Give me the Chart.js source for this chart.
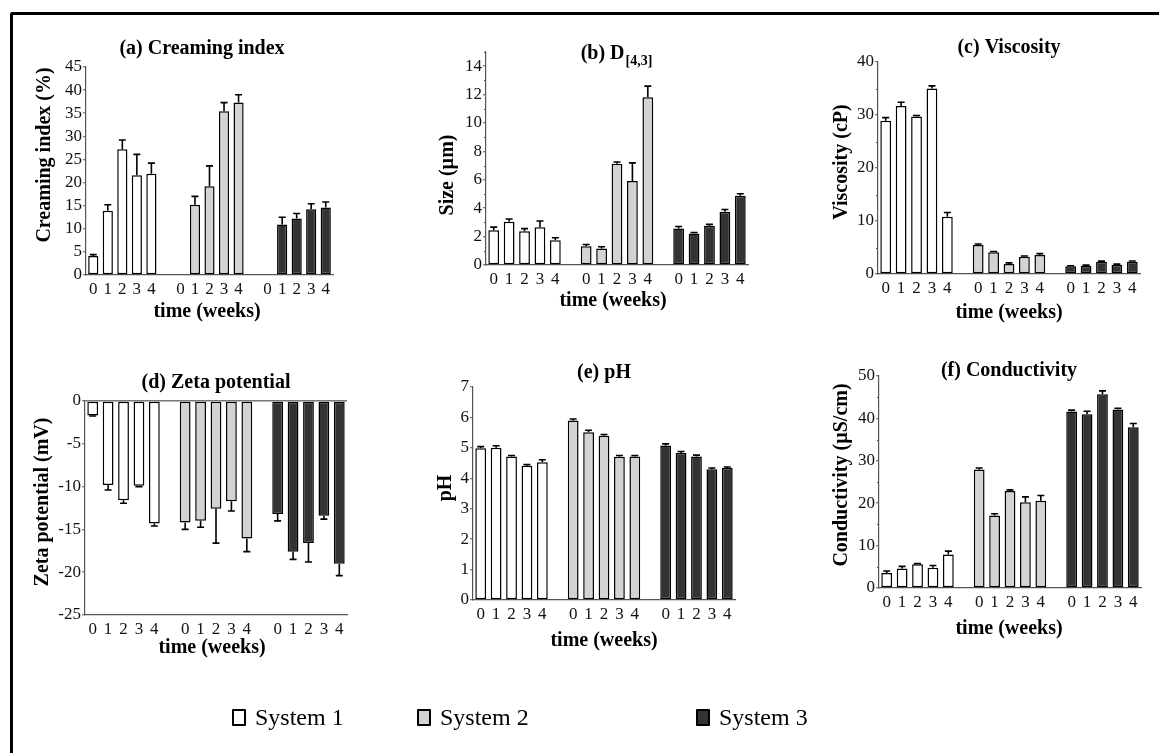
<!DOCTYPE html>
<html><head><meta charset="utf-8">
<script src="https://cdn.jsdelivr.net/npm/chart.js@4.4.0/dist/chart.umd.min.js"></script>
<style>
html,body{margin:0;padding:0;background:#fff;}
#wrap{position:relative;width:1159px;height:753px;overflow:hidden;background:#fff;}
#frame{position:absolute;left:10px;top:12px;width:1170px;height:760px;border-top:3px solid #000;border-left:3px solid #000;border-top-left-radius:3px;box-sizing:border-box;}
canvas.panel{position:absolute;left:0;top:0;}
.leg{position:absolute;top:703px;height:28px;font-family:"Liberation Serif",serif;font-size:24px;line-height:28px;color:#000;white-space:nowrap;}
.sw{display:inline-block;width:10px;height:13px;border:2.5px solid #000;border-radius:1px;vertical-align:-1px;margin-right:9px;}
</style></head>
<body><div id="wrap"><div id="frame"></div></div>
<script>
// ---------- shared labels ----------
const weekLabels = ['0','1','2','3','4'];
const systemNames = ['System 1','System 2','System 3'];
const systemColors = ['#ffffff','#d3d3d3','#333333'];

// ---------- (a) Creaming index (%) ----------
const creamS1 = [4.1, 13.9, 27.2, 21.6, 21.9];
const creamS1Err = [0.3, 1.3, 2.0, 4.5, 2.3];
const creamS2 = [null, 15.2, 19.2, 35.4, 37.3];
const creamS2Err = [null, 1.8, 4.4, 1.9, 1.7];
const creamS3 = [null, 10.9, 12.2, 14.2, 14.6];
const creamS3Err = [null, 1.6, 1.1, 1.2, 1.2];
const creamTicks = [0,5,10,15,20,25,30,35,40,45];

// ---------- (b) D[4,3] size (µm) ----------
const sizeS1 = [2.45, 3.04, 2.38, 2.65, 1.75];
const sizeS1Err = [0.22, 0.2, 0.18, 0.45, 0.17];
const sizeS2 = [1.32, 1.16, 7.13, 5.92, 11.82];
const sizeS2Err = [0.12, 0.12, 0.12, 1.27, 0.78];
const sizeS3 = [2.57, 2.21, 2.76, 3.75, 4.88];
const sizeS3Err = [0.14, 0.08, 0.1, 0.16, 0.14];
const sizeTicks = [0,2,4,6,8,10,12,14];

// ---------- (c) Viscosity (cP) ----------
const viscS1 = [28.9, 31.7, 29.7, 35.0, 10.8];
const viscS1Err = [0.6, 0.7, 0.2, 0.5, 0.8];
const viscS2 = [5.45, 4.1, 1.9, 3.25, 3.6];
const viscS2Err = [0.2, 0.15, 0.2, 0.15, 0.25];
const viscS3 = [1.45, 1.55, 2.3, 1.75, 2.3];
const viscS3Err = [0.12, 0.12, 0.12, 0.12, 0.15];
const viscTicks = [0,10,20,30,40];

// ---------- (d) Zeta potential (mV) ----------
const zetaS1 = [-1.7, -9.8, -11.6, -9.9, -14.3];
const zetaS1Err = [0.05, 0.6, 0.35, 0.1, 0.3];
const zetaS2 = [-14.2, -14.0, -12.6, -11.7, -16.05];
const zetaS2Err = [0.8, 0.75, 4.0, 1.15, 1.55];
const zetaS3 = [-13.2, -17.6, -16.6, -13.4, -19.0];
const zetaS3Err = [0.8, 0.9, 2.2, 0.4, 1.4];
const zetaTicks = [-25,-20,-15,-10,-5,0];

// ---------- (e) pH ----------
const phS1 = [4.99, 5.0, 4.72, 4.41, 4.53];
const phS1Err = [0.05, 0.07, 0.03, 0.04, 0.08];
const phS2 = [5.9, 5.51, 5.4, 4.71, 4.72];
const phS2Err = [0.05, 0.07, 0.04, 0.04, 0.03];
const phS3 = [5.08, 4.83, 4.72, 4.3, 4.34];
const phS3Err = [0.05, 0.05, 0.04, 0.04, 0.03];
const phTicks = [0,1,2,3,4,5,6,7];

// ---------- (f) Conductivity (µS/cm) ----------
const condS1 = [3.55, 4.6, 5.6, 4.75, 7.9];
const condS1Err = [0.45, 0.5, 0.15, 0.55, 0.8];
const condS2 = [27.95, 17.1, 22.9, 20.2, 20.55];
const condS2Err = [0.35, 0.4, 0.25, 1.3, 1.25];
const condS3 = [41.65, 41.0, 45.7, 42.1, 37.9];
const condS3Err = [0.3, 0.7, 0.8, 0.3, 0.9];
const condTicks = [0,10,20,30,40,50];

// ---------- helpers ----------
const xLabels = [...weekLabels, '', ...weekLabels, '', ...weekLabels];
function spread(values, group) {
  const arr = new Array(xLabels.length).fill(null);
  values.forEach((v, i) => { arr[group * 6 + i] = v; });
  return arr;
}
const SERIF = '"Liberation Serif", "Times New Roman", serif';

const panels = [
  { box:{L:86,T:67,R:333,B:275}, min:0, max:45, ticks:creamTicks, minor:null,
    series:[creamS1,creamS2,creamS3], errs:[creamS1Err,creamS2Err,creamS3Err],
    title:{text:'(a) Creaming index', x:202, y:49},
    ytitle:{text:'Creaming index (%)', x:45, y:155}, xtitle:{x:207, y:312} },
  { box:{L:486,T:52,R:748,B:265}, min:0, max:15, ticks:sizeTicks, minor:1,
    series:[sizeS1,sizeS2,sizeS3], errs:[sizeS1Err,sizeS2Err,sizeS3Err],
    title:{text:'(b) D', sub:'[4,3]', x:616, y:54},
    ytitle:{text:'Size (\u00b5m)', x:448, y:175}, xtitle:{x:613, y:301} },
  { box:{L:878,T:62,R:1140,B:274}, min:0, max:40, ticks:viscTicks, minor:5,
    series:[viscS1,viscS2,viscS3], errs:[viscS1Err,viscS2Err,viscS3Err],
    title:{text:'(c) Viscosity', x:1009, y:48},
    ytitle:{text:'Viscosity (cP)', x:842, y:162}, xtitle:{x:1009, y:313} },
  { box:{L:85,T:401,R:347,B:615}, min:-25, max:0, ticks:zetaTicks, minor:null, zeroLine:true,
    series:[zetaS1,zetaS2,zetaS3], errs:[zetaS1Err,zetaS2Err,zetaS3Err],
    title:{text:'(d) Zeta potential', x:216, y:383},
    ytitle:{text:'Zeta potential (mV)', x:43, y:502}, xtitle:{x:212, y:648} },
  { box:{L:473,T:387,R:735,B:600}, min:0, max:7, ticks:phTicks, minor:null,
    series:[phS1,phS2,phS3], errs:[phS1Err,phS2Err,phS3Err],
    title:{text:'(e) pH', x:604, y:373},
    ytitle:{text:'pH', x:446, y:488}, xtitle:{x:604, y:641} },
  { box:{L:879,T:376,R:1141,B:588}, min:0, max:50, ticks:condTicks, minor:5,
    series:[condS1,condS2,condS3], errs:[condS1Err,condS2Err,condS3Err],
    title:{text:'(f) Conductivity', x:1009, y:371},
    ytitle:{text:'Conductivity (\u00b5S/cm)', x:842, y:475}, xtitle:{x:1009, y:629} }
];

// ---------- plugins ----------
const errorBarPlugin = {
  id: 'errorBars',
  afterDatasetsDraw(chart) {
    const ctx = chart.ctx, ys = chart.scales.y;
    chart.data.datasets.forEach((ds, di) => {
      const meta = chart.getDatasetMeta(di);
      meta.data.forEach((bar, i) => {
        const v = ds.data[i], e = ds.errors ? ds.errors[i] : null;
        if (v == null || e == null) return;
        const end = v >= 0 ? v + e : v - e;
        const y0 = ys.getPixelForValue(v), y1 = ys.getPixelForValue(end);
        ctx.save();
        ctx.strokeStyle = '#000'; ctx.lineWidth = 1.6;
        ctx.beginPath();
        ctx.moveTo(bar.x, y0); ctx.lineTo(bar.x, y1);
        ctx.moveTo(bar.x - 3.5, y1); ctx.lineTo(bar.x + 3.5, y1);
        ctx.stroke();
        ctx.restore();
      });
    });
  }
};

const minorTickPlugin = {
  id: 'minorTicks',
  afterDraw(chart, args, opts) {
    if (!opts.step) return;
    const ys = chart.scales.y, ctx = chart.ctx, x = chart.chartArea.left;
    ctx.save(); ctx.strokeStyle = '#555'; ctx.lineWidth = 1;
    for (let v = ys.min; v <= ys.max + 1e-9; v += opts.step) {
      if (opts.major.includes(Math.round(v * 1000) / 1000)) continue;
      const y = Math.round(ys.getPixelForValue(v)) + 0.5;
      ctx.beginPath(); ctx.moveTo(x - 2, y); ctx.lineTo(x, y); ctx.stroke();
    }
    ctx.restore();
  }
};

const panelTextPlugin = {
  id: 'panelText',
  afterDraw(chart, args, opts) {
    const ctx = chart.ctx;
    ctx.save();
    ctx.fillStyle = '#000';
    ctx.textBaseline = 'middle';
    const t = opts.title;
    ctx.font = 'bold 20px ' + SERIF;
    if (t.sub) {
      const w1 = ctx.measureText(t.text).width;
      ctx.font = 'bold 14px ' + SERIF;
      const w2 = ctx.measureText(t.sub).width;
      const x0 = t.x - (w1 + w2) / 2;
      ctx.textAlign = 'left';
      ctx.font = 'bold 20px ' + SERIF;
      ctx.fillText(t.text, x0, t.y);
      ctx.font = 'bold 14px ' + SERIF;
      ctx.fillText(t.sub, x0 + w1 + 1, t.y + 7);
    } else {
      ctx.textAlign = 'center';
      ctx.fillText(t.text, t.x, t.y);
    }
    ctx.font = 'bold 20px ' + SERIF;
    ctx.textAlign = 'center';
    ctx.fillText(opts.xtitle.text, opts.xtitle.x, opts.xtitle.y);
    ctx.translate(opts.ytitle.x, opts.ytitle.y);
    ctx.rotate(-Math.PI / 2);
    ctx.fillText(opts.ytitle.text, 0, 0);
    ctx.restore();
  }
};

// ---------- build charts ----------
const W = 1159, H = 753, YW = 50, XH = 30;
panels.forEach((p) => {
  const cv = document.createElement('canvas');
  cv.className = 'panel';
  cv.width = W; cv.height = H;
  cv.style.width = W + 'px'; cv.style.height = H + 'px';
  document.getElementById('wrap').appendChild(cv);

  const datasets = p.series.map((vals, g) => ({
    label: systemNames[g],
    data: spread(vals, g),
    errors: spread(p.errs[g], g),
    backgroundColor: systemColors[g],
    borderColor: '#000',
    borderWidth: 1.5,
    borderSkipped: false,
    grouped: false,
    barPercentage: 0.7,
    categoryPercentage: 1.0
  }));

  new Chart(cv, {
    type: 'bar',
    data: { labels: xLabels, datasets },
    plugins: [errorBarPlugin, minorTickPlugin, panelTextPlugin],
    options: {
      responsive: false,
      animation: false,
      devicePixelRatio: 1,
      events: [],
      layout: { padding: { left: p.box.L - YW, top: p.box.T, right: W - p.box.R, bottom: H - p.box.B - XH } },
      plugins: {
        legend: { display: false },
        tooltip: { enabled: false },
        title: { display: false },
        minorTicks: { step: p.minor, major: p.ticks },
        panelText: { title: p.title, ytitle: p.ytitle, xtitle: { text: 'time (weeks)', x: p.xtitle.x, y: p.xtitle.y } }
      },
      scales: {
        x: {
          type: 'category',
          offset: true,
          grid: { display: false, drawTicks: false, tickLength: 0 },
          border: { display: true, color: '#555', width: 1.2 },
          ticks: { autoSkip: false, maxRotation: 0, minRotation: 0, padding: 4, color: '#111',
                   font: { family: SERIF, size: 17 } },
          afterFit: s => { s.height = XH; }
        },
        y: {
          min: p.min, max: p.max,
          afterBuildTicks: s => { s.ticks = p.ticks.map(v => ({ value: v })); },
          afterFit: s => { s.width = YW; },
          ticks: { autoSkip: false, padding: 1, color: '#111', font: { family: SERIF, size: 17 },
                   callback: v => String(v) },
          grid: {
            drawOnChartArea: !!p.zeroLine,
            drawTicks: true, tickLength: 3, tickColor: '#555', tickWidth: 1,
            color: c => (p.zeroLine && c.tick && c.tick.value === 0) ? '#777' : 'rgba(0,0,0,0)',
            lineWidth: 1.5
          },
          border: { display: true, color: '#555', width: 1.2 }
        }
      }
    }
  });
});

// ---------- legend ----------
const legendX = [232, 417, 696];
systemNames.forEach((name, i) => {
  const d = document.createElement('div');
  d.className = 'leg';
  d.style.left = legendX[i] + 'px';
  const sw = document.createElement('span');
  sw.className = 'sw';
  sw.style.background = systemColors[i];
  d.appendChild(sw);
  d.appendChild(document.createTextNode(name));
  document.getElementById('wrap').appendChild(d);
});
</script>
</body></html>
